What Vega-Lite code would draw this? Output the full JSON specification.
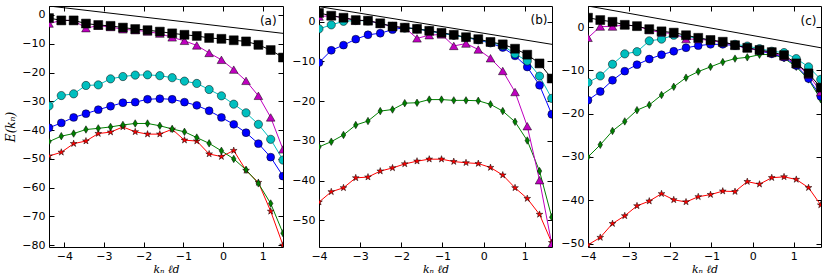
{
"$schema":"https://vega.github.io/schema/vega-lite/v6.json",
"padding":{"left":4,"top":5,"right":3,"bottom":0},
"background":"white",
"datasets":{
"refs":[{"p":"a","x":-4.385,"E":3.1},{"p":"a","x":1.51,"E":-6.4},{"p":"b","x":-4,"E":3.8},{"p":"b","x":1.66,"E":-5.7},{"p":"c","x":-4,"E":4.85},{"p":"c","x":1.66,"E":-4.8}],
"curves":[
{"p":"a","s":"r","x":-4.385,"E":-49.0},{"p":"a","s":"r","x":-4.075,"E":-47.7},{"p":"a","s":"r","x":-3.764,"E":-44.7},{"p":"a","s":"r","x":-3.454,"E":-43.8},{"p":"a","s":"r","x":-3.144,"E":-41.2},{"p":"a","s":"r","x":-2.834,"E":-40.7},{"p":"a","s":"r","x":-2.523,"E":-38.9},{"p":"a","s":"r","x":-2.213,"E":-40.6},{"p":"a","s":"r","x":-1.903,"E":-41.4},{"p":"a","s":"r","x":-1.593,"E":-41.4},{"p":"a","s":"r","x":-1.282,"E":-39.7},{"p":"a","s":"r","x":-0.972,"E":-43.5},{"p":"a","s":"r","x":-0.662,"E":-43.8},{"p":"a","s":"r","x":-0.351,"E":-48.3},{"p":"a","s":"r","x":-0.041,"E":-49.2},{"p":"a","s":"r","x":0.269,"E":-47.1},{"p":"a","s":"r","x":0.579,"E":-54.0},{"p":"a","s":"r","x":0.89,"E":-58.2},{"p":"a","s":"r","x":1.2,"E":-68.2},{"p":"a","s":"r","x":1.51,"E":-80.0},
{"p":"a","s":"g","x":-4.385,"E":-44.0},{"p":"a","s":"g","x":-4.075,"E":-42.1},{"p":"a","s":"g","x":-3.764,"E":-41.2},{"p":"a","s":"g","x":-3.454,"E":-39.8},{"p":"a","s":"g","x":-3.144,"E":-39.4},{"p":"a","s":"g","x":-2.834,"E":-38.9},{"p":"a","s":"g","x":-2.523,"E":-38.2},{"p":"a","s":"g","x":-2.213,"E":-37.7},{"p":"a","s":"g","x":-1.903,"E":-37.7},{"p":"a","s":"g","x":-1.593,"E":-38.5},{"p":"a","s":"g","x":-1.282,"E":-39.6},{"p":"a","s":"g","x":-0.972,"E":-40.6},{"p":"a","s":"g","x":-0.662,"E":-42.6},{"p":"a","s":"g","x":-0.351,"E":-44.6},{"p":"a","s":"g","x":-0.041,"E":-47.2},{"p":"a","s":"g","x":0.269,"E":-50.0},{"p":"a","s":"g","x":0.579,"E":-53.8},{"p":"a","s":"g","x":0.89,"E":-58.5},{"p":"a","s":"g","x":1.2,"E":-65.5},{"p":"a","s":"g","x":1.51,"E":-75.8},
{"p":"a","s":"b","x":-4.385,"E":-39.2},{"p":"a","s":"b","x":-4.075,"E":-37.5},{"p":"a","s":"b","x":-3.764,"E":-35.6},{"p":"a","s":"b","x":-3.454,"E":-34.3},{"p":"a","s":"b","x":-3.144,"E":-32.9},{"p":"a","s":"b","x":-2.834,"E":-31.7},{"p":"a","s":"b","x":-2.523,"E":-30.5},{"p":"a","s":"b","x":-2.213,"E":-30.3},{"p":"a","s":"b","x":-1.903,"E":-29.3},{"p":"a","s":"b","x":-1.593,"E":-29.1},{"p":"a","s":"b","x":-1.282,"E":-29.3},{"p":"a","s":"b","x":-0.972,"E":-30.3},{"p":"a","s":"b","x":-0.662,"E":-31.4},{"p":"a","s":"b","x":-0.351,"E":-33.3},{"p":"a","s":"b","x":-0.041,"E":-35.6},{"p":"a","s":"b","x":0.269,"E":-38.0},{"p":"a","s":"b","x":0.579,"E":-40.9},{"p":"a","s":"b","x":0.89,"E":-44.7},{"p":"a","s":"b","x":1.2,"E":-49.4},{"p":"a","s":"b","x":1.51,"E":-56.0},
{"p":"a","s":"c","x":-4.385,"E":-31.6},{"p":"a","s":"c","x":-4.075,"E":-28.0},{"p":"a","s":"c","x":-3.764,"E":-27.4},{"p":"a","s":"c","x":-3.454,"E":-24.5},{"p":"a","s":"c","x":-3.144,"E":-24.3},{"p":"a","s":"c","x":-2.834,"E":-22.2},{"p":"a","s":"c","x":-2.523,"E":-21.4},{"p":"a","s":"c","x":-2.213,"E":-20.9},{"p":"a","s":"c","x":-1.903,"E":-20.8},{"p":"a","s":"c","x":-1.593,"E":-21.1},{"p":"a","s":"c","x":-1.282,"E":-21.8},{"p":"a","s":"c","x":-0.972,"E":-23.0},{"p":"a","s":"c","x":-0.662,"E":-23.8},{"p":"a","s":"c","x":-0.351,"E":-25.9},{"p":"a","s":"c","x":-0.041,"E":-28.1},{"p":"a","s":"c","x":0.269,"E":-31.0},{"p":"a","s":"c","x":0.579,"E":-34.0},{"p":"a","s":"c","x":0.89,"E":-38.0},{"p":"a","s":"c","x":1.2,"E":-43.2},{"p":"a","s":"c","x":1.51,"E":-50.4},
{"p":"a","s":"m","x":-4.385,"E":-3.0},{"p":"a","s":"m","x":-4.075,"E":-1.9},{"p":"a","s":"m","x":-3.764,"E":-1.9},{"p":"a","s":"m","x":-3.454,"E":-4.6},{"p":"a","s":"m","x":-3.144,"E":-3.7},{"p":"a","s":"m","x":-2.834,"E":-4.2},{"p":"a","s":"m","x":-2.523,"E":-5.0},{"p":"a","s":"m","x":-2.213,"E":-5.3},{"p":"a","s":"m","x":-1.903,"E":-5.8},{"p":"a","s":"m","x":-1.593,"E":-6.5},{"p":"a","s":"m","x":-1.282,"E":-7.8},{"p":"a","s":"m","x":-0.972,"E":-9.0},{"p":"a","s":"m","x":-0.662,"E":-10.6},{"p":"a","s":"m","x":-0.351,"E":-13.2},{"p":"a","s":"m","x":-0.041,"E":-15.6},{"p":"a","s":"m","x":0.269,"E":-19.0},{"p":"a","s":"m","x":0.579,"E":-22.9},{"p":"a","s":"m","x":0.89,"E":-28.1},{"p":"a","s":"m","x":1.2,"E":-35.6},{"p":"a","s":"m","x":1.51,"E":-46.7},
{"p":"a","s":"k","x":-4.385,"E":-1.1},{"p":"a","s":"k","x":-4.075,"E":-1.9},{"p":"a","s":"k","x":-3.764,"E":-1.9},{"p":"a","s":"k","x":-3.454,"E":-3.0},{"p":"a","s":"k","x":-3.144,"E":-3.5},{"p":"a","s":"k","x":-2.834,"E":-3.8},{"p":"a","s":"k","x":-2.523,"E":-4.4},{"p":"a","s":"k","x":-2.213,"E":-4.9},{"p":"a","s":"k","x":-1.903,"E":-5.3},{"p":"a","s":"k","x":-1.593,"E":-5.8},{"p":"a","s":"k","x":-1.282,"E":-6.4},{"p":"a","s":"k","x":-0.972,"E":-6.9},{"p":"a","s":"k","x":-0.662,"E":-7.3},{"p":"a","s":"k","x":-0.351,"E":-8.0},{"p":"a","s":"k","x":-0.041,"E":-8.3},{"p":"a","s":"k","x":0.269,"E":-8.8},{"p":"a","s":"k","x":0.579,"E":-9.2},{"p":"a","s":"k","x":0.89,"E":-10.4},{"p":"a","s":"k","x":1.2,"E":-12.2},{"p":"a","s":"k","x":1.51,"E":-14.8},
{"p":"b","s":"r","x":-4,"E":-45.4},{"p":"b","s":"r","x":-3.702,"E":-42.8},{"p":"b","s":"r","x":-3.405,"E":-41.8},{"p":"b","s":"r","x":-3.107,"E":-39.3},{"p":"b","s":"r","x":-2.81,"E":-39.1},{"p":"b","s":"r","x":-2.512,"E":-37.6},{"p":"b","s":"r","x":-2.214,"E":-36.8},{"p":"b","s":"r","x":-1.917,"E":-35.8},{"p":"b","s":"r","x":-1.619,"E":-35.1},{"p":"b","s":"r","x":-1.322,"E":-34.6},{"p":"b","s":"r","x":-1.024,"E":-34.6},{"p":"b","s":"r","x":-0.726,"E":-35.2},{"p":"b","s":"r","x":-0.429,"E":-35.5},{"p":"b","s":"r","x":-0.131,"E":-35.7},{"p":"b","s":"r","x":0.166,"E":-36.7},{"p":"b","s":"r","x":0.464,"E":-38.6},{"p":"b","s":"r","x":0.762,"E":-41.8},{"p":"b","s":"r","x":1.059,"E":-44.5},{"p":"b","s":"r","x":1.357,"E":-48.5},{"p":"b","s":"r","x":1.654,"E":-55.6},
{"p":"b","s":"g","x":-4,"E":-31.5},{"p":"b","s":"g","x":-3.702,"E":-30.2},{"p":"b","s":"g","x":-3.405,"E":-28.5},{"p":"b","s":"g","x":-3.107,"E":-26.0},{"p":"b","s":"g","x":-2.81,"E":-25.0},{"p":"b","s":"g","x":-2.512,"E":-22.5},{"p":"b","s":"g","x":-2.214,"E":-22.1},{"p":"b","s":"g","x":-1.917,"E":-20.5},{"p":"b","s":"g","x":-1.619,"E":-20.4},{"p":"b","s":"g","x":-1.322,"E":-19.6},{"p":"b","s":"g","x":-1.024,"E":-19.6},{"p":"b","s":"g","x":-0.726,"E":-19.8},{"p":"b","s":"g","x":-0.429,"E":-19.8},{"p":"b","s":"g","x":-0.131,"E":-19.9},{"p":"b","s":"g","x":0.166,"E":-20.8},{"p":"b","s":"g","x":0.464,"E":-22.5},{"p":"b","s":"g","x":0.762,"E":-25.2},{"p":"b","s":"g","x":1.059,"E":-29.9},{"p":"b","s":"g","x":1.357,"E":-37.6},{"p":"b","s":"g","x":1.654,"E":-49.2},
{"p":"b","s":"b","x":-4,"E":-10.3},{"p":"b","s":"b","x":-3.702,"E":-7.2},{"p":"b","s":"b","x":-3.405,"E":-5.9},{"p":"b","s":"b","x":-3.107,"E":-4.4},{"p":"b","s":"b","x":-2.81,"E":-3.3},{"p":"b","s":"b","x":-2.512,"E":-2.9},{"p":"b","s":"b","x":-2.214,"E":-2.0},{"p":"b","s":"b","x":-1.917,"E":-1.5},{"p":"b","s":"b","x":-1.619,"E":-1.8},{"p":"b","s":"b","x":-1.322,"E":-2.3},{"p":"b","s":"b","x":-1.024,"E":-2.9},{"p":"b","s":"b","x":-0.726,"E":-3.4},{"p":"b","s":"b","x":-0.429,"E":-4.0},{"p":"b","s":"b","x":-0.131,"E":-4.6},{"p":"b","s":"b","x":0.166,"E":-5.4},{"p":"b","s":"b","x":0.464,"E":-6.5},{"p":"b","s":"b","x":0.762,"E":-8.6},{"p":"b","s":"b","x":1.059,"E":-11.4},{"p":"b","s":"b","x":1.357,"E":-16.0},{"p":"b","s":"b","x":1.654,"E":-23.3},
{"p":"b","s":"c","x":-4,"E":-1.8},{"p":"b","s":"c","x":-3.702,"E":-0.8},{"p":"b","s":"c","x":-3.405,"E":0.1},{"p":"b","s":"c","x":-3.107,"E":0.3},{"p":"b","s":"c","x":-2.81,"E":0.2},{"p":"b","s":"c","x":-2.512,"E":-0.5},{"p":"b","s":"c","x":-2.214,"E":-1.2},{"p":"b","s":"c","x":-1.917,"E":-1.6},{"p":"b","s":"c","x":-1.619,"E":-1.8},{"p":"b","s":"c","x":-1.322,"E":-2.3},{"p":"b","s":"c","x":-1.024,"E":-2.9},{"p":"b","s":"c","x":-0.726,"E":-3.4},{"p":"b","s":"c","x":-0.429,"E":-4.0},{"p":"b","s":"c","x":-0.131,"E":-4.5},{"p":"b","s":"c","x":0.166,"E":-5.2},{"p":"b","s":"c","x":0.464,"E":-6.0},{"p":"b","s":"c","x":0.762,"E":-8.1},{"p":"b","s":"c","x":1.059,"E":-9.9},{"p":"b","s":"c","x":1.357,"E":-13.7},{"p":"b","s":"c","x":1.654,"E":-19.3},
{"p":"b","s":"m","x":-4,"E":1.3},{"p":"b","s":"m","x":-3.702,"E":1.5},{"p":"b","s":"m","x":-3.405,"E":1.0},{"p":"b","s":"m","x":-3.107,"E":0.3},{"p":"b","s":"m","x":-2.81,"E":0.3},{"p":"b","s":"m","x":-2.512,"E":-0.5},{"p":"b","s":"m","x":-2.214,"E":-1.2},{"p":"b","s":"m","x":-1.917,"E":-1.5},{"p":"b","s":"m","x":-1.619,"E":-4.2},{"p":"b","s":"m","x":-1.322,"E":-3.4},{"p":"b","s":"m","x":-1.024,"E":-3.2},{"p":"b","s":"m","x":-0.726,"E":-6.1},{"p":"b","s":"m","x":-0.429,"E":-5.5},{"p":"b","s":"m","x":-0.131,"E":-7.0},{"p":"b","s":"m","x":0.166,"E":-9.2},{"p":"b","s":"m","x":0.464,"E":-12.4},{"p":"b","s":"m","x":0.762,"E":-17.7},{"p":"b","s":"m","x":1.059,"E":-26.3},{"p":"b","s":"m","x":1.357,"E":-39.9},{"p":"b","s":"m","x":1.654,"E":-56.0},
{"p":"b","s":"k","x":-4,"E":2.2},{"p":"b","s":"k","x":-3.702,"E":1.5},{"p":"b","s":"k","x":-3.405,"E":1.0},{"p":"b","s":"k","x":-3.107,"E":0.4},{"p":"b","s":"k","x":-2.81,"E":0.25},{"p":"b","s":"k","x":-2.512,"E":-0.4},{"p":"b","s":"k","x":-2.214,"E":-1.2},{"p":"b","s":"k","x":-1.917,"E":-1.5},{"p":"b","s":"k","x":-1.619,"E":-1.8},{"p":"b","s":"k","x":-1.322,"E":-2.3},{"p":"b","s":"k","x":-1.024,"E":-2.8},{"p":"b","s":"k","x":-0.726,"E":-3.3},{"p":"b","s":"k","x":-0.429,"E":-3.9},{"p":"b","s":"k","x":-0.131,"E":-4.4},{"p":"b","s":"k","x":0.166,"E":-5.1},{"p":"b","s":"k","x":0.464,"E":-5.7},{"p":"b","s":"k","x":0.762,"E":-6.8},{"p":"b","s":"k","x":1.059,"E":-8.3},{"p":"b","s":"k","x":1.357,"E":-10.5},{"p":"b","s":"k","x":1.654,"E":-14.3},
{"p":"c","s":"r","x":-4,"E":-50.3},{"p":"c","s":"r","x":-3.702,"E":-48.6},{"p":"c","s":"r","x":-3.405,"E":-45.4},{"p":"c","s":"r","x":-3.107,"E":-43.6},{"p":"c","s":"r","x":-2.81,"E":-41.3},{"p":"c","s":"r","x":-2.512,"E":-40.2},{"p":"c","s":"r","x":-2.214,"E":-38.5},{"p":"c","s":"r","x":-1.917,"E":-39.9},{"p":"c","s":"r","x":-1.619,"E":-40.4},{"p":"c","s":"r","x":-1.322,"E":-39.2},{"p":"c","s":"r","x":-1.024,"E":-38.7},{"p":"c","s":"r","x":-0.726,"E":-37.9},{"p":"c","s":"r","x":-0.429,"E":-38.0},{"p":"c","s":"r","x":-0.131,"E":-35.7},{"p":"c","s":"r","x":0.166,"E":-36.3},{"p":"c","s":"r","x":0.464,"E":-34.8},{"p":"c","s":"r","x":0.762,"E":-34.6},{"p":"c","s":"r","x":1.059,"E":-35.2},{"p":"c","s":"r","x":1.357,"E":-37.1},{"p":"c","s":"r","x":1.654,"E":-41.1},
{"p":"c","s":"g","x":-4,"E":-30.0},{"p":"c","s":"g","x":-3.702,"E":-27.2},{"p":"c","s":"g","x":-3.405,"E":-24.0},{"p":"c","s":"g","x":-3.107,"E":-21.8},{"p":"c","s":"g","x":-2.81,"E":-19.2},{"p":"c","s":"g","x":-2.512,"E":-18.0},{"p":"c","s":"g","x":-2.214,"E":-15.7},{"p":"c","s":"g","x":-1.917,"E":-13.8},{"p":"c","s":"g","x":-1.619,"E":-11.7},{"p":"c","s":"g","x":-1.322,"E":-10.3},{"p":"c","s":"g","x":-1.024,"E":-9.2},{"p":"c","s":"g","x":-0.726,"E":-8.1},{"p":"c","s":"g","x":-0.429,"E":-7.3},{"p":"c","s":"g","x":-0.131,"E":-7.0},{"p":"c","s":"g","x":0.166,"E":-6.4},{"p":"c","s":"g","x":0.464,"E":-6.3},{"p":"c","s":"g","x":0.762,"E":-7.2},{"p":"c","s":"g","x":1.059,"E":-9.2},{"p":"c","s":"g","x":1.357,"E":-12.1},{"p":"c","s":"g","x":1.654,"E":-16.7},
{"p":"c","s":"b","x":-4,"E":-16.9},{"p":"c","s":"b","x":-3.702,"E":-14.9},{"p":"c","s":"b","x":-3.405,"E":-12.3},{"p":"c","s":"b","x":-3.107,"E":-10.2},{"p":"c","s":"b","x":-2.81,"E":-8.7},{"p":"c","s":"b","x":-2.512,"E":-7.4},{"p":"c","s":"b","x":-2.214,"E":-6.4},{"p":"c","s":"b","x":-1.917,"E":-5.6},{"p":"c","s":"b","x":-1.619,"E":-4.8},{"p":"c","s":"b","x":-1.322,"E":-4.3},{"p":"c","s":"b","x":-1.024,"E":-4.0},{"p":"c","s":"b","x":-0.726,"E":-4.0},{"p":"c","s":"b","x":-0.429,"E":-4.3},{"p":"c","s":"b","x":-0.131,"E":-4.8},{"p":"c","s":"b","x":0.166,"E":-5.5},{"p":"c","s":"b","x":0.464,"E":-6.2},{"p":"c","s":"b","x":0.762,"E":-7.0},{"p":"c","s":"b","x":1.059,"E":-8.9},{"p":"c","s":"b","x":1.357,"E":-11.9},{"p":"c","s":"b","x":1.654,"E":-16.0},
{"p":"c","s":"c","x":-4,"E":-12.8},{"p":"c","s":"c","x":-3.702,"E":-11.3},{"p":"c","s":"c","x":-3.405,"E":-8.6},{"p":"c","s":"c","x":-3.107,"E":-6.2},{"p":"c","s":"c","x":-2.81,"E":-5.7},{"p":"c","s":"c","x":-2.512,"E":-3.2},{"p":"c","s":"c","x":-2.214,"E":-2.8},{"p":"c","s":"c","x":-1.917,"E":-1.9},{"p":"c","s":"c","x":-1.619,"E":-2.2},{"p":"c","s":"c","x":-1.322,"E":-2.6},{"p":"c","s":"c","x":-1.024,"E":-3.1},{"p":"c","s":"c","x":-0.726,"E":-3.6},{"p":"c","s":"c","x":-0.429,"E":-4.0},{"p":"c","s":"c","x":-0.131,"E":-4.4},{"p":"c","s":"c","x":0.166,"E":-5.0},{"p":"c","s":"c","x":0.464,"E":-5.6},{"p":"c","s":"c","x":0.762,"E":-5.9},{"p":"c","s":"c","x":1.059,"E":-7.3},{"p":"c","s":"c","x":1.357,"E":-9.2},{"p":"c","s":"c","x":1.654,"E":-12.1},
{"p":"c","s":"m","x":-4,"E":-2.5},{"p":"c","s":"m","x":-3.702,"E":0.1},{"p":"c","s":"m","x":-3.405,"E":0.1},{"p":"c","s":"m","x":-3.107,"E":0.5},{"p":"c","s":"m","x":-2.81,"E":0.2},{"p":"c","s":"m","x":-2.512,"E":-0.7},{"p":"c","s":"m","x":-2.214,"E":-1.3},{"p":"c","s":"m","x":-1.917,"E":-1.5},{"p":"c","s":"m","x":-1.619,"E":-2.8},{"p":"c","s":"m","x":-1.322,"E":-2.8},{"p":"c","s":"m","x":-1.024,"E":-3.1},{"p":"c","s":"m","x":-0.726,"E":-3.6},{"p":"c","s":"m","x":-0.429,"E":-4.2},{"p":"c","s":"m","x":-0.131,"E":-4.9},{"p":"c","s":"m","x":0.166,"E":-5.4},{"p":"c","s":"m","x":0.464,"E":-6.0},{"p":"c","s":"m","x":0.762,"E":-6.8},{"p":"c","s":"m","x":1.059,"E":-8.6},{"p":"c","s":"m","x":1.357,"E":-11.0},{"p":"c","s":"m","x":1.654,"E":-15.0},
{"p":"c","s":"k","x":-4,"E":2.15},{"p":"c","s":"k","x":-3.702,"E":1.6},{"p":"c","s":"k","x":-3.405,"E":1.2},{"p":"c","s":"k","x":-3.107,"E":0.5},{"p":"c","s":"k","x":-2.81,"E":0.2},{"p":"c","s":"k","x":-2.512,"E":-0.5},{"p":"c","s":"k","x":-2.214,"E":-1.0},{"p":"c","s":"k","x":-1.917,"E":-1.3},{"p":"c","s":"k","x":-1.619,"E":-1.9},{"p":"c","s":"k","x":-1.322,"E":-2.5},{"p":"c","s":"k","x":-1.024,"E":-3.0},{"p":"c","s":"k","x":-0.726,"E":-3.4},{"p":"c","s":"k","x":-0.429,"E":-4.2},{"p":"c","s":"k","x":-0.131,"E":-4.8},{"p":"c","s":"k","x":0.166,"E":-5.3},{"p":"c","s":"k","x":0.464,"E":-5.8},{"p":"c","s":"k","x":0.762,"E":-6.5},{"p":"c","s":"k","x":1.059,"E":-8.4},{"p":"c","s":"k","x":1.357,"E":-10.7},{"p":"c","s":"k","x":1.654,"E":-14.0}
]},
"hconcat":[
{"width":234,"height":241,
 "resolve":{"axis":{"x":"independent","y":"independent"}},
 "layer":[
  {"data":{"name":"refs"},"transform":[{"filter":"datum.p==='a'"}],
   "mark":{"type":"line","color":"black","strokeWidth":1,"clip":true},
   "encoding":{"x":{"field":"x","type":"quantitative","scale":{"domain":[-4.385,1.51],"nice":false,"zero":false},"axis":{"orient":"bottom","values":[-4,-3,-2,-1,0,1],"title":"kₙ ℓd"}},
               "y":{"field":"E","type":"quantitative","scale":{"domain":[-80.6,3.1],"nice":false,"zero":false},"axis":{"orient":"left","values":[-80,-70,-60,-50,-40,-30,-20,-10,0],"title":"E(kₙ)"}}}},
  {"data":{"name":"curves"},"transform":[{"filter":"datum.p==='a'"}],
   "mark":{"type":"line","strokeWidth":1,"clip":true},
   "encoding":{"x":{"field":"x","type":"quantitative","scale":{"domain":[-4.385,1.51],"nice":false,"zero":false},"axis":{"orient":"top","values":[-4,-3,-2,-1,0,1],"labels":false,"title":null}},
               "y":{"field":"E","type":"quantitative","scale":{"domain":[-80.6,3.1],"nice":false,"zero":false},"axis":{"orient":"right","values":[-80,-70,-60,-50,-40,-30,-20,-10,0],"labels":false,"title":null}},
               "color":{"field":"s","type":"nominal","scale":{"domain":["r","g","b","c","m","k"],"range":["#ff0000","#008000","#0000ff","#00bfbf","#bf00bf","#000000"]},"legend":null}}},
  {"data":{"name":"curves"},"transform":[{"filter":"datum.p==='a'"}],
   "mark":{"type":"point","filled":true,"stroke":"black","strokeWidth":0.5,"opacity":1,"clip":true},
   "encoding":{"x":{"field":"x","type":"quantitative","scale":{"domain":[-4.385,1.51],"nice":false,"zero":false},"axis":null},
               "y":{"field":"E","type":"quantitative","scale":{"domain":[-80.6,3.1],"nice":false,"zero":false},"axis":null},
               "color":{"field":"s","type":"nominal","scale":{"domain":["r","g","b","c","m","k"],"range":["#ff0000","#008000","#0000ff","#00bfbf","#bf00bf","#000000"]},"legend":null},
               "shape":{"field":"s","type":"nominal","scale":{"domain":["r","g","b","c","m","k"],"range":["M0,-1L0.2245,-0.309L0.951,-0.309L0.363,0.118L0.588,0.809L0,0.382L-0.588,0.809L-0.363,0.118L-0.951,-0.309L-0.2245,-0.309Z","M0,-1L0.6,0L0,1L-0.6,0Z","circle","circle","triangle-up","square"]},"legend":null},
               "size":{"field":"s","type":"ordinal","scale":{"domain":["r","g","b","c","m","k"],"range":[50,80,40,40,34,44]},"legend":null}}},
  {"data":{"values":[{"t":"(a)"}]},
   "mark":{"type":"text","align":"right","baseline":"middle","font":"DejaVu Sans","fontSize":12,"color":"black"},
   "encoding":{"x":{"datum":1.35,"type":"quantitative","scale":{"domain":[-4.385,1.51],"nice":false,"zero":false},"axis":null},
               "y":{"datum":-2.1,"type":"quantitative","scale":{"domain":[-80.6,3.1],"nice":false,"zero":false},"axis":null},
               "text":{"field":"t"}}}
 ]},
{"width":233,"height":241,
 "resolve":{"axis":{"x":"independent","y":"independent"}},
 "layer":[
  {"data":{"name":"refs"},"transform":[{"filter":"datum.p==='b'"}],
   "mark":{"type":"line","color":"black","strokeWidth":1,"clip":true},
   "encoding":{"x":{"field":"x","type":"quantitative","scale":{"domain":[-4,1.66],"nice":false,"zero":false},"axis":{"orient":"bottom","values":[-4,-3,-2,-1,0,1],"title":"kₙ ℓd"}},
               "y":{"field":"E","type":"quantitative","scale":{"domain":[-56.7,3.95],"nice":false,"zero":false},"axis":{"orient":"left","values":[-50,-40,-30,-20,-10,0],"title":null}}}},
  {"data":{"name":"curves"},"transform":[{"filter":"datum.p==='b'"}],
   "mark":{"type":"line","strokeWidth":1,"clip":true},
   "encoding":{"x":{"field":"x","type":"quantitative","scale":{"domain":[-4,1.66],"nice":false,"zero":false},"axis":{"orient":"top","values":[-4,-3,-2,-1,0,1],"labels":false,"title":null}},
               "y":{"field":"E","type":"quantitative","scale":{"domain":[-56.7,3.95],"nice":false,"zero":false},"axis":{"orient":"right","values":[-50,-40,-30,-20,-10,0],"labels":false,"title":null}},
               "color":{"field":"s","type":"nominal","scale":{"domain":["r","g","b","c","m","k"],"range":["#ff0000","#008000","#0000ff","#00bfbf","#bf00bf","#000000"]},"legend":null}}},
  {"data":{"name":"curves"},"transform":[{"filter":"datum.p==='b'"}],
   "mark":{"type":"point","filled":true,"stroke":"black","strokeWidth":0.5,"opacity":1,"clip":true},
   "encoding":{"x":{"field":"x","type":"quantitative","scale":{"domain":[-4,1.66],"nice":false,"zero":false},"axis":null},
               "y":{"field":"E","type":"quantitative","scale":{"domain":[-56.7,3.95],"nice":false,"zero":false},"axis":null},
               "color":{"field":"s","type":"nominal","scale":{"domain":["r","g","b","c","m","k"],"range":["#ff0000","#008000","#0000ff","#00bfbf","#bf00bf","#000000"]},"legend":null},
               "shape":{"field":"s","type":"nominal","scale":{"domain":["r","g","b","c","m","k"],"range":["M0,-1L0.2245,-0.309L0.951,-0.309L0.363,0.118L0.588,0.809L0,0.382L-0.588,0.809L-0.363,0.118L-0.951,-0.309L-0.2245,-0.309Z","M0,-1L0.6,0L0,1L-0.6,0Z","circle","circle","triangle-up","square"]},"legend":null},
               "size":{"field":"s","type":"ordinal","scale":{"domain":["r","g","b","c","m","k"],"range":[50,80,40,40,34,44]},"legend":null}}},
  {"data":{"values":[{"t":"(b)"}]},
   "mark":{"type":"text","align":"right","baseline":"middle","font":"DejaVu Sans","fontSize":12,"color":"black"},
   "encoding":{"x":{"datum":1.55,"type":"quantitative","scale":{"domain":[-4,1.66],"nice":false,"zero":false},"axis":null},
               "y":{"datum":0.35,"type":"quantitative","scale":{"domain":[-56.7,3.95],"nice":false,"zero":false},"axis":null},
               "text":{"field":"t"}}}
 ]},
{"width":233,"height":241,
 "resolve":{"axis":{"x":"independent","y":"independent"}},
 "layer":[
  {"data":{"name":"refs"},"transform":[{"filter":"datum.p==='c'"}],
   "mark":{"type":"line","color":"black","strokeWidth":1,"clip":true},
   "encoding":{"x":{"field":"x","type":"quantitative","scale":{"domain":[-4,1.66],"nice":false,"zero":false},"axis":{"orient":"bottom","values":[-4,-3,-2,-1,0,1],"title":"kₙ ℓd"}},
               "y":{"field":"E","type":"quantitative","scale":{"domain":[-50.8,4.85],"nice":false,"zero":false},"axis":{"orient":"left","values":[-50,-40,-30,-20,-10,0],"title":null}}}},
  {"data":{"name":"curves"},"transform":[{"filter":"datum.p==='c'"}],
   "mark":{"type":"line","strokeWidth":1,"clip":true},
   "encoding":{"x":{"field":"x","type":"quantitative","scale":{"domain":[-4,1.66],"nice":false,"zero":false},"axis":{"orient":"top","values":[-4,-3,-2,-1,0,1],"labels":false,"title":null}},
               "y":{"field":"E","type":"quantitative","scale":{"domain":[-50.8,4.85],"nice":false,"zero":false},"axis":{"orient":"right","values":[-50,-40,-30,-20,-10,0],"labels":false,"title":null}},
               "color":{"field":"s","type":"nominal","scale":{"domain":["r","g","b","c","m","k"],"range":["#ff0000","#008000","#0000ff","#00bfbf","#bf00bf","#000000"]},"legend":null}}},
  {"data":{"name":"curves"},"transform":[{"filter":"datum.p==='c'"}],
   "mark":{"type":"point","filled":true,"stroke":"black","strokeWidth":0.5,"opacity":1,"clip":true},
   "encoding":{"x":{"field":"x","type":"quantitative","scale":{"domain":[-4,1.66],"nice":false,"zero":false},"axis":null},
               "y":{"field":"E","type":"quantitative","scale":{"domain":[-50.8,4.85],"nice":false,"zero":false},"axis":null},
               "color":{"field":"s","type":"nominal","scale":{"domain":["r","g","b","c","m","k"],"range":["#ff0000","#008000","#0000ff","#00bfbf","#bf00bf","#000000"]},"legend":null},
               "shape":{"field":"s","type":"nominal","scale":{"domain":["r","g","b","c","m","k"],"range":["M0,-1L0.2245,-0.309L0.951,-0.309L0.363,0.118L0.588,0.809L0,0.382L-0.588,0.809L-0.363,0.118L-0.951,-0.309L-0.2245,-0.309Z","M0,-1L0.6,0L0,1L-0.6,0Z","circle","circle","triangle-up","square"]},"legend":null},
               "size":{"field":"s","type":"ordinal","scale":{"domain":["r","g","b","c","m","k"],"range":[50,80,40,40,34,44]},"legend":null}}},
  {"data":{"values":[{"t":"(c)"}]},
   "mark":{"type":"text","align":"right","baseline":"middle","font":"DejaVu Sans","fontSize":12,"color":"black"},
   "encoding":{"x":{"datum":1.55,"type":"quantitative","scale":{"domain":[-4,1.66],"nice":false,"zero":false},"axis":null},
               "y":{"datum":1.4,"type":"quantitative","scale":{"domain":[-50.8,4.85],"nice":false,"zero":false},"axis":null},
               "text":{"field":"t"}}}
 ]}
],
"spacing":36,
"bounds":"flush",
"config":{
 "view":{"stroke":"black","strokeWidth":1},
 "axis":{"grid":false,"domain":false,"tickColor":"black","tickWidth":1,"tickSize":-5,"labelPadding":9,"labelFlush":false,"labelOverlap":false,"labelFont":"DejaVu Sans","labelFontSize":11,"labelColor":"black","titleFont":"DejaVu Serif","titleFontStyle":"italic","titleFontWeight":"normal","titleFontSize":12,"titleColor":"black","titlePadding":4},
 "axisX":{"titlePadding":2,"titleFontSize":11,"labelPadding":8}
}
}
